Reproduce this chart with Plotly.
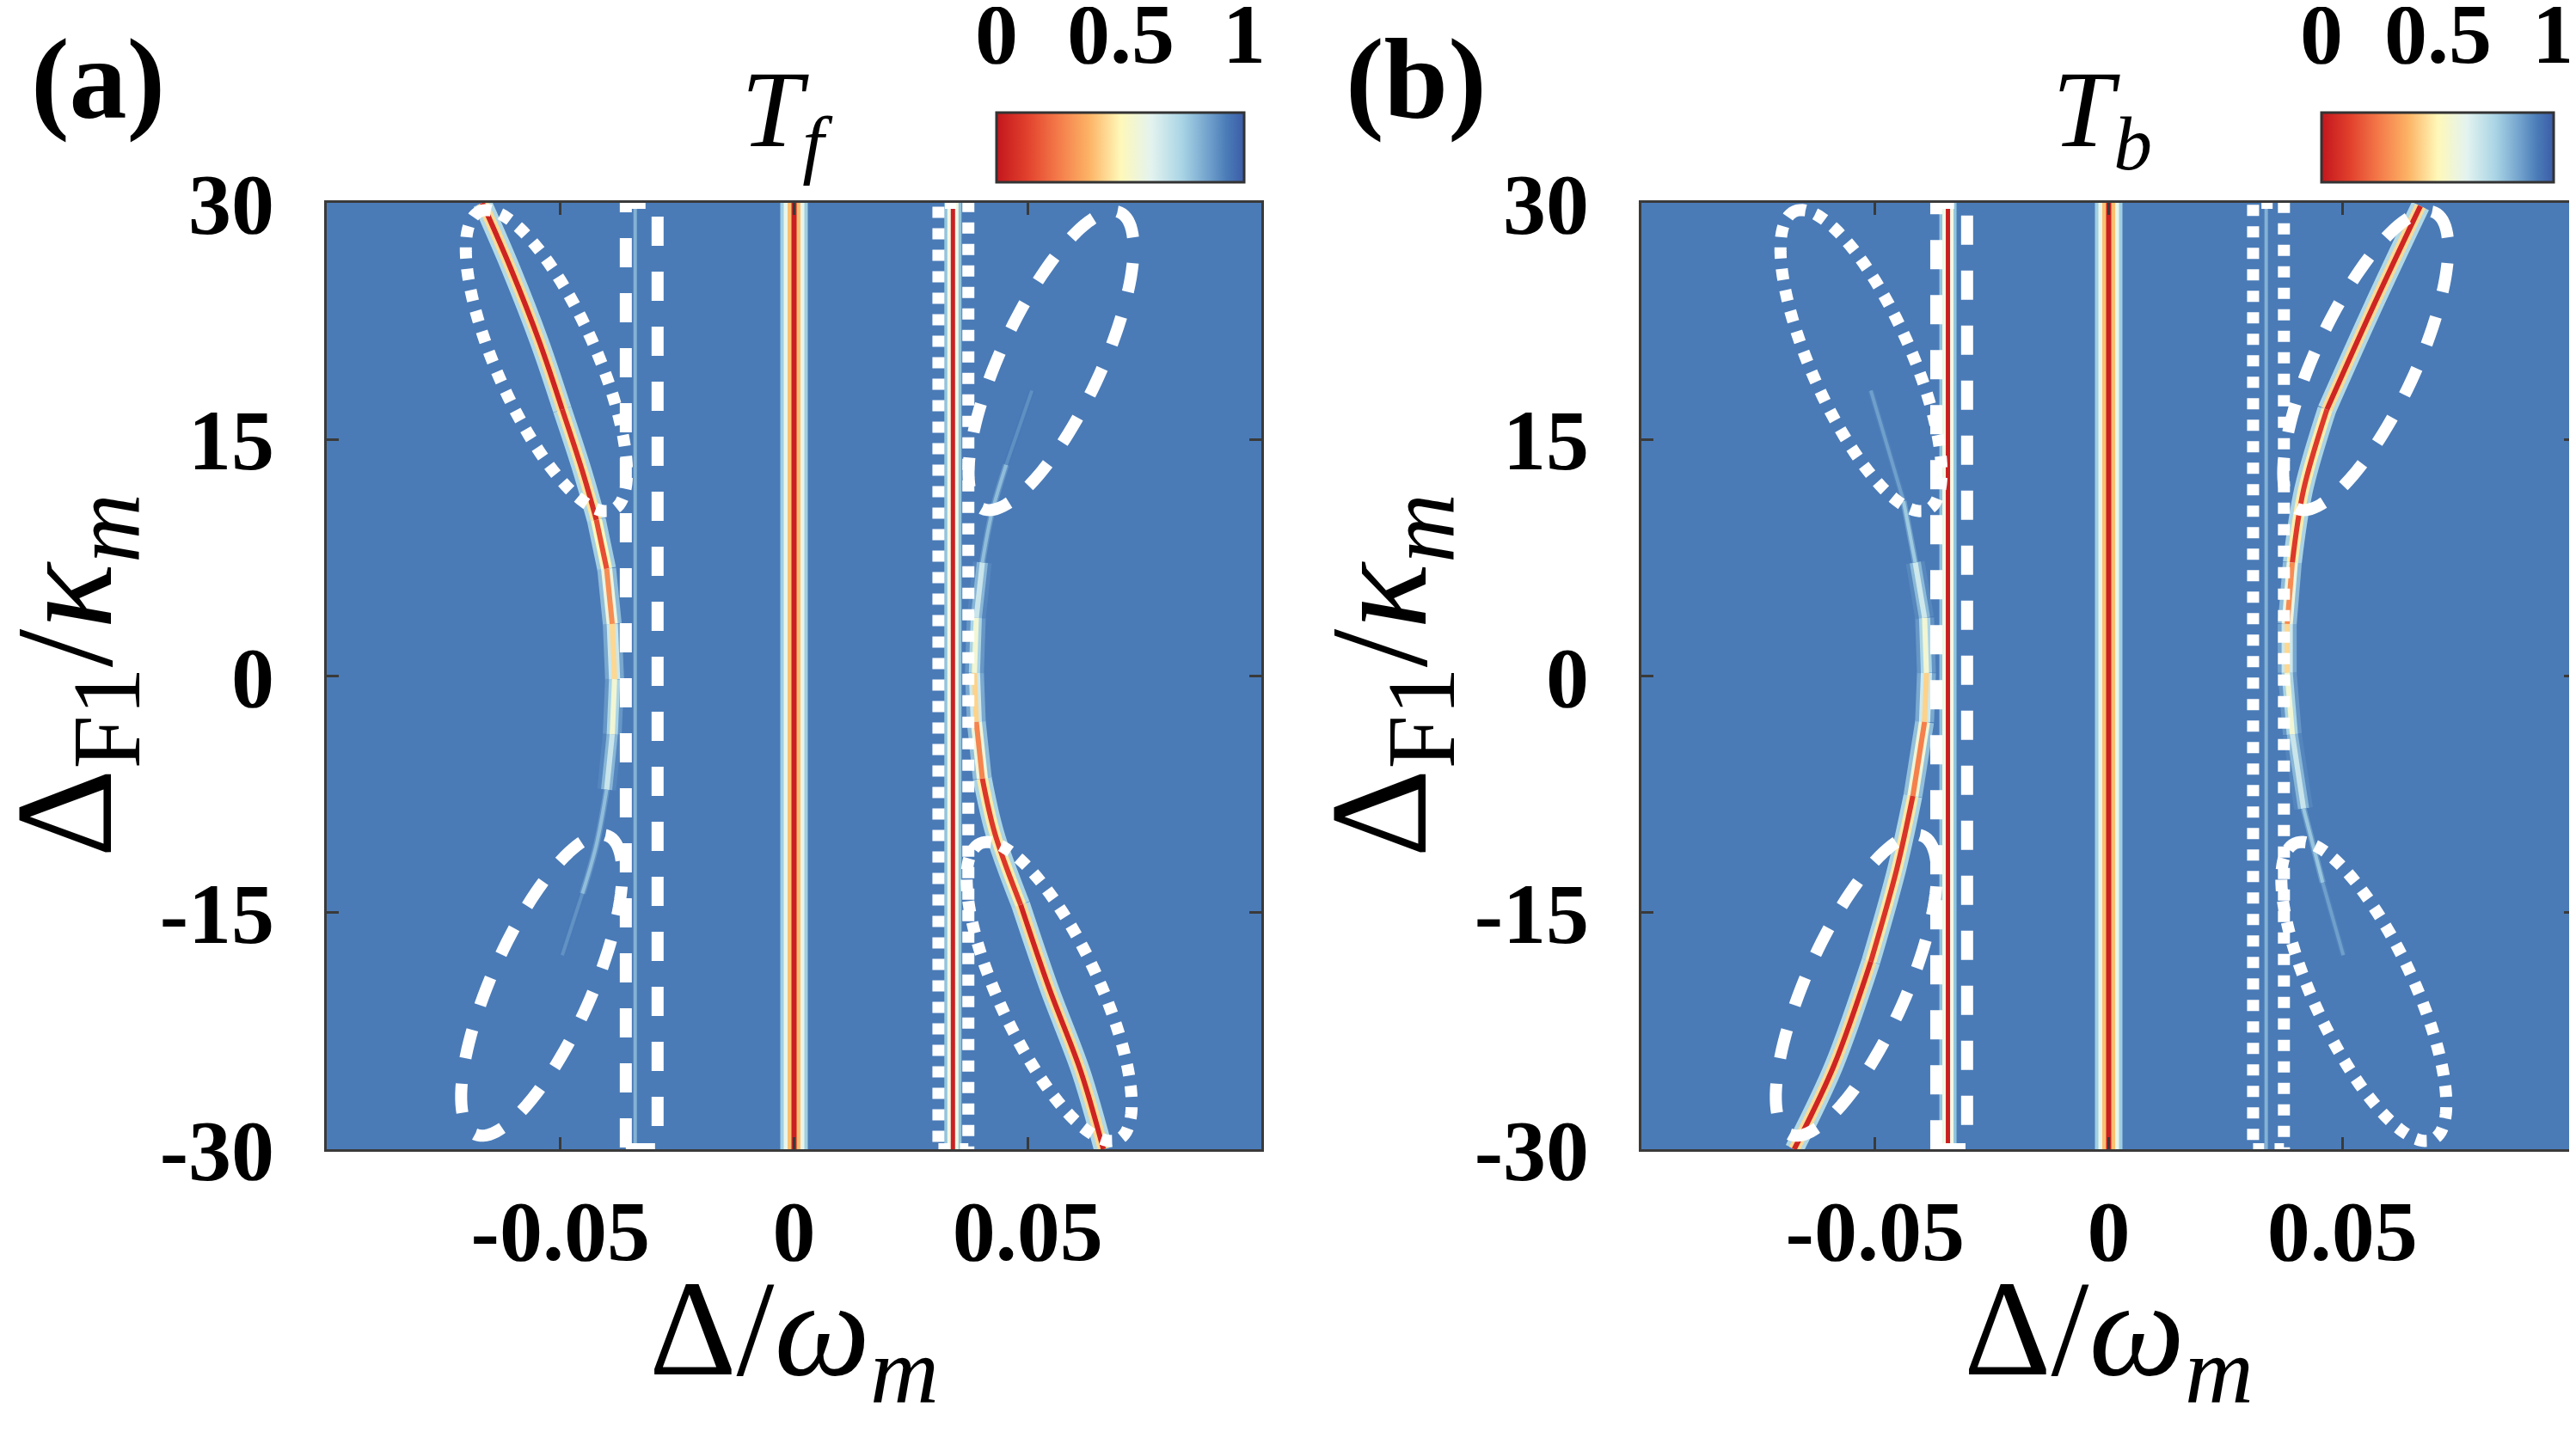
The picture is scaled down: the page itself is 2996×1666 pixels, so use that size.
import math
import plotly.graph_objects as go

W, H = 2996, 1666
FONT = "Liberation Serif"

# ---------------- data ----------------
X_RANGE = [-0.1, 0.1]
Y_RANGE = [-30, 30]
X_TICKS = [-0.05, 0, 0.05]
X_TICKTEXT = ["-0.05", "0", "0.05"]
Y_TICKS = [30, 15, 0, -15, -30]
Y_TICKTEXT = ["30", "15", "0", "-15", "-30"]
CB_TICKS = [0, 0.5, 1]
CB_TICKTEXT = ["0", "0.5", "1"]
BG_T = 0.93            # transmission far from resonance (background)
BG_X = [-0.1, 0.1]
BG_Y = [-30, 30]

# panel (a) curved resonances: Delta/omega_m, Delta_F1/kappa_m, transmission at the dip
A_L_X = [-0.0667, -0.0607, -0.0545, -0.0496, -0.0453, -0.0423, -0.0401, -0.0389, -0.0384, -0.0389, -0.0401, -0.0423, -0.0453, -0.0496]
A_L_Y = [30, 25.9, 21.2, 16.9, 13.0, 9.9, 6.8, 3.3, -0.2, -3.7, -7.2, -10.7, -13.8, -17.7]
A_L_T = [0.04, 0.04, 0.04, 0.05, 0.06, 0.10, 0.20, 0.38, 0.50, 0.62, 0.74, 0.80, 0.85, 0.92]
A_R_X = [0.0662, 0.0614, 0.0546, 0.0485, 0.0430, 0.0403, 0.0390, 0.0386, 0.0390, 0.0403, 0.0423, 0.0454, 0.0509]
A_R_Y = [-30, -25.1, -19.8, -14.5, -10.0, -6.5, -2.9, 0.2, 3.7, 7.2, 10.3, 13.4, 18.1]
A_R_T = [0.04, 0.04, 0.04, 0.05, 0.08, 0.18, 0.36, 0.50, 0.62, 0.74, 0.80, 0.86, 0.92]
# panel (b)
B_L_X = [-0.0673, -0.0588, -0.0509, -0.0454, -0.0419, -0.0394, -0.0390, -0.0394, -0.0414, -0.0439, -0.0509]
B_L_Y = [-30, -24.7, -18.1, -12.3, -7.6, -2.9, 0.2, 3.7, 7.2, 11.1, 18.1]
B_L_T = [0.04, 0.04, 0.05, 0.07, 0.16, 0.36, 0.50, 0.62, 0.72, 0.82, 0.90]
B_R_X = [0.0667, 0.0567, 0.0467, 0.0417, 0.0393, 0.0382, 0.0382, 0.0393, 0.0417, 0.0458, 0.0502]
B_R_Y = [29.8, 23.5, 16.9, 11.8, 7.2, 3.3, 0.2, -3.7, -8.4, -13.1, -17.7]
B_R_T = [0.04, 0.04, 0.05, 0.08, 0.20, 0.38, 0.50, 0.62, 0.74, 0.82, 0.90]

# straight (vertical) resonances: position, transmission
A_V_X = [0.0, 0.0340, -0.0340]
A_V_T = [0.03, 0.03, 0.90]
B_V_X = [0.0, -0.0344, 0.0337]
B_V_T = [0.03, 0.03, 0.90]

# white guide marks (rectangles: x0, x1; ellipses: centre x, centre y, tilt in degrees)
A_DASH_RECT = [-0.0360, -0.0292]
A_DOT_RECT = [0.0309, 0.0373]
B_DASH_RECT = [-0.0369, -0.0303]
B_DOT_RECT = [0.0309, 0.0375]
ELL_DOT = [(-0.053, 20.0, -24.0), (0.0546, -20.0, -25.0)]
ELL_DASH = [(-0.054, -19.6, 24.0), (0.055, 20.0, 25.0)]

# ---------------- layout geometry (pixels) ----------------
PLOT_TOP, PLOT_BOT = 228, 1329
PA_X0, PA_X1 = 372, 1459
PB_X0, PB_X1 = 1901, 2988
PX_PER_X = (PA_X1 - PA_X0) / (X_RANGE[1] - X_RANGE[0])
PX_PER_Y = (PLOT_BOT - PLOT_TOP) / (Y_RANGE[1] - Y_RANGE[0])
ELL_A, ELL_B = 190, 58     # semi axes of guide ellipses, px

CSCALE = [[0.0, "#c3161d"], [0.125, "#e2412d"], [0.25, "#f47b4a"], [0.375, "#fcb466"],
          [0.5, "#fff8b8"], [0.625, "#e3f3ef"], [0.75, "#a9d4e5"], [0.86, "#6f9fcb"],
          [0.93, "#4a7bb7"], [1.0, "#3c5ca8"]]


def hex2rgb(h):
    h = h.lstrip("#")
    return [int(h[i:i + 2], 16) for i in (0, 2, 4)]


def cmap(v):
    v = min(max(v, 0.0), 1.0)
    for (p0, c0), (p1, c1) in zip(CSCALE[:-1], CSCALE[1:]):
        if p0 <= v <= p1:
            f = 0 if p1 == p0 else (v - p0) / (p1 - p0)
            a, b = hex2rgb(c0), hex2rgb(c1)
            return "rgb(%d,%d,%d)" % tuple(round(a[i] + (b[i] - a[i]) * f) for i in range(3))
    return CSCALE[-1][1]


def px(x):
    return x / W


def py(y):
    return 1 - y / H


fig = go.Figure()

panels = [
    dict(xa="x", ya="y", x0=PA_X0, x1=PA_X1, curves=[(A_L_X, A_L_Y, A_L_T), (A_R_X, A_R_Y, A_R_T)],
         vx=A_V_X, vt=A_V_T, dash=A_DASH_RECT, dot=A_DOT_RECT, title="<i>T</i><sub><i>f</i></sub>", label="(a)",
         cb_x0=1151, cb_len=288),
    dict(xa="x2", ya="y2", x0=PB_X0, x1=PB_X1, curves=[(B_L_X, B_L_Y, B_L_T), (B_R_X, B_R_Y, B_R_T)],
         vx=B_V_X, vt=B_V_T, dash=B_DASH_RECT, dot=B_DOT_RECT, title="<i>T</i><sub><i>b</i></sub>", label="(b)",
         cb_x0=2692, cb_len=270),
]

shapes = []
annotations = []

for P in panels:
    xa, ya = P["xa"], P["ya"]
    fig.add_trace(go.Heatmap(
        x=BG_X, y=BG_Y, z=[[BG_T, BG_T], [BG_T, BG_T]], xaxis=xa, yaxis=ya,
        colorscale=CSCALE, zmin=0, zmax=1, hoverinfo="skip", showscale=True,
        colorbar=dict(orientation="h", x=px(P["cb_x0"]), xanchor="left", y=py(123), yanchor="top",
                      len=P["cb_len"], lenmode="pixels", thickness=81, thicknessmode="pixels",
                      xpad=0, ypad=0, outlinewidth=3, outlinecolor="#333333",
                      ticks="", showticklabels=False)))

    def line(xs, ys, color, width, shape="linear"):
        fig.add_trace(go.Scatter(x=xs, y=ys, mode="lines", xaxis=xa, yaxis=ya,
                                 line=dict(color=color, width=width, shape=shape, smoothing=1.0),
                                 hoverinfo="skip", showlegend=False))

    # vertical resonances
    for vx, vt in zip(P["vx"], P["vt"]):
        yy = [Y_RANGE[0], Y_RANGE[1]]
        if vt > 0.7:
            line([vx, vx], yy, cmap(vt - 0.08), 4)
        elif vx == 0:
            line([vx, vx], yy, "#9fcfe3", 32)
            line([vx, vx], yy, "#e8f5ea", 24)
            line([vx, vx], yy, "#fcc070", 15)
            line([vx, vx], yy, cmap(vt), 6)
        else:
            line([vx, vx], yy, "#92c5de", 20)
            line([vx, vx], yy, "#f2f8e5", 13)
            line([vx, vx], yy, cmap(vt), 5)

    # curved resonances, layered so that the dip looks like a coloured stripe;
    # consecutive segments of similar depth are joined into one smooth run
    for cx, cy, ct in P["curves"]:
        runs = []
        for i in range(len(cx) - 1):
            t = 0.5 * (ct[i] + ct[i + 1])
            b = round(t * 10)
            if runs and runs[-1]["b"] == b:
                runs[-1]["x"].append(cx[i + 1])
                runs[-1]["y"].append(cy[i + 1])
                runs[-1]["t"].append(t)
            else:
                runs.append(dict(b=b, x=[cx[i], cx[i + 1]], y=[cy[i], cy[i + 1]], t=[t]))
        for layer, (frac, width) in enumerate([(0.72, 22), (0.42, 13), (0.0, 6)]):
            for r in runs:
                t = sum(r["t"]) / len(r["t"])
                if t > 0.7 and layer == 0:
                    continue
                w = width if t < 0.7 else max(4, width * 0.55)
                line(r["x"], r["y"], cmap(t + (1 - t) * frac), w, "spline")

    # white guide rectangles
    for rect, dash in ((P["dash"], "34px,30px"), (P["dot"], "13px,12px")):
        shapes.append(dict(type="rect", xref=xa, yref=ya, x0=rect[0], x1=rect[1],
                           y0=Y_RANGE[0], y1=Y_RANGE[1], layer="above",
                           line=dict(color="white", width=14, dash=dash)))
    # white guide ellipses
    for ells, dash in ((ELL_DOT, "13px,12px"), (ELL_DASH, "34px,30px")):
        for ex, ey, phi in ells:
            ph = math.radians(phi)
            pts = []
            n = 120
            for k in range(n):
                t = 2 * math.pi * k / n
                u, v = ELL_A * math.cos(t), ELL_B * math.sin(t)
                dx = u * math.sin(ph) + v * math.cos(ph)
                dy = u * math.cos(ph) - v * math.sin(ph)
                pts.append("%.6f,%.4f" % (ex + dx / PX_PER_X, ey + dy / PX_PER_Y))
            path = "M " + " L ".join(pts) + " Z"
            shapes.append(dict(type="path", xref=xa, yref=ya, path=path, layer="above",
                               line=dict(color="white", width=14, dash=dash)))

    cxm = 0.5 * (P["x0"] + P["x1"])
    # panel title
    annotations.append(dict(text=P["title"], x=px(cxm - 8), y=py(128), xref="paper", yref="paper",
                            xanchor="center", yanchor="middle", showarrow=False,
                            font=dict(family=FONT, size=128, color="black")))
    # panel label
    annotations.append(dict(text="<b>" + P["label"] + "</b>", x=px(P["x0"] - 346), y=py(84),
                            xref="paper", yref="paper", xanchor="left", yanchor="middle",
                            showarrow=False, font=dict(family=FONT, size=134, color="black")))
    # axis titles
    zero_px = P["x0"] + (0 - X_RANGE[0]) * PX_PER_X
    annotations.append(dict(text="Δ/<i>ω</i><sub><i>m</i></sub>", x=px(zero_px), y=py(1448),
                            xref="paper", yref="paper", xanchor="center", yanchor="top",
                            showarrow=False, font=dict(family=FONT, size=158, color="black")))
    annotations.append(dict(text="Δ<sub>F1</sub>/<i>κ</i><sub><i>m</i></sub>", x=px(P["x0"] - 294),
                            y=py(0.5 * (PLOT_TOP + PLOT_BOT)), xref="paper", yref="paper",
                            xanchor="center", yanchor="middle", textangle=-90, showarrow=False,
                            font=dict(family=FONT, size=160, color="black")))
    # colorbar tick labels
    for v, s in zip(CB_TICKS, CB_TICKTEXT):
        annotations.append(dict(text="<b>%s</b>" % s, x=px(P["cb_x0"] + v * P["cb_len"]), y=py(32),
                                xref="paper", yref="paper", xanchor="center", yanchor="middle",
                                showarrow=False, font=dict(family=FONT, size=100, color="black")))

axis_common = dict(showline=True, linecolor="#3a3a3a", linewidth=3, mirror="ticks",
                   ticks="inside", ticklen=14, tickwidth=3, tickcolor="#3a3a3a",
                   showgrid=False, zeroline=False, fixedrange=True, automargin=False,
                   tickfont=dict(family=FONT, size=100, color="black", weight="bold"))

ydom = [py(PLOT_BOT), py(PLOT_TOP)]
fig.update_layout(
    width=W, height=H, margin=dict(l=0, r=0, t=0, b=0, autoexpand=False),
    paper_bgcolor="white", plot_bgcolor="#4a7bb7", showlegend=False,
    xaxis=dict(domain=[px(PA_X0), px(PA_X1)], range=X_RANGE, anchor="y",
               tickvals=X_TICKS, ticktext=X_TICKTEXT, ticklabelstandoff=6, **axis_common),
    yaxis=dict(domain=ydom, range=Y_RANGE, anchor="x",
               tickvals=Y_TICKS, ticktext=Y_TICKTEXT, ticklabelstandoff=38, **axis_common),
    xaxis2=dict(domain=[px(PB_X0), px(PB_X1)], range=X_RANGE, anchor="y2",
                tickvals=X_TICKS, ticktext=X_TICKTEXT, ticklabelstandoff=6, **axis_common),
    yaxis2=dict(domain=ydom, range=Y_RANGE, anchor="x2",
                tickvals=Y_TICKS, ticktext=Y_TICKTEXT, ticklabelstandoff=38, **axis_common),
    shapes=shapes, annotations=annotations,
)

fig.write_html("out.html")
